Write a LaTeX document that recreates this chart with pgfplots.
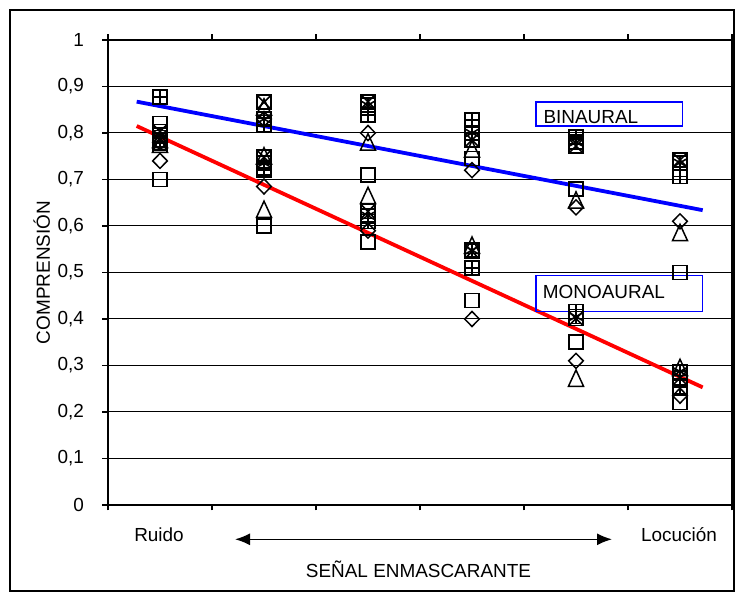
\documentclass[border=0pt]{standalone}
\usepackage{fontspec}
\setmainfont{Liberation Sans}
\usepackage{pgfplots}
\pgfplotsset{compat=1.18}
\usetikzlibrary{arrows.meta}

\pgfplotstableread{
x y
0 0.82
0 0.70
1 0.72
1 0.60
2 0.71
2 0.565
3 0.745
3 0.44
4 0.68
4 0.35
5 0.50
5 0.22
}\sqdata
\pgfplotstableread{
x y
0 0.74
0 0.78
1 0.685
1 0.83
2 0.80
2 0.59
3 0.72
3 0.40
4 0.64
4 0.31
5 0.61
5 0.235
}\diadata
\pgfplotstableread{
x y
0 0.78
0 0.77
1 0.745
1 0.63
1 0.85
2 0.775
2 0.66
3 0.76
3 0.553
4 0.65
4 0.267
5 0.58
5 0.29
}\tridata
\pgfplotstableread{
x y
0 0.803
0 0.785
1 0.866
1 0.748
2 0.867
2 0.631
3 0.785
3 0.545
4 0.772
4 0.401
5 0.742
5 0.273
}\xdata
\pgfplotstableread{
x y
0 0.878
0 0.778
1 0.817
1 0.725
2 0.839
2 0.61
3 0.828
3 0.51
4 0.792
4 0.416
5 0.706
5 0.254
}\plusdata
\pgfplotstableread{
x y
0 0.796
1 0.735
1 0.83
2 0.86
2 0.622
3 0.80
3 0.548
4 0.78
4 0.405
5 0.736
5 0.287
}\stardata

\begin{document}
\fontsize{19}{22}\selectfont
\begin{tikzpicture}[x=1bp,y=1bp]
\useasboundingbox (-108,-94) rectangle (627,505);
\draw[line width=1.5bp] (-98,-86) rectangle (626,495);
\begin{axis}[
  scale only axis, width=624bp, height=465bp,
  at={(0,0)}, anchor=south west,
  xmin=-0.5, xmax=5.5, ymin=0, ymax=1,
  xtick={-0.5,0.5,1.5,2.5,3.5,4.5,5.5}, xticklabels={},
  ytick={0,0.1,0.2,0.3,0.4,0.5,0.6,0.7,0.8,0.9,1},
  tick align=outside, major tick length=5.5bp,
  tick style={black, line width=1.2bp},
  axis line style={black, line width=1.5bp},
  ymajorgrids, grid style={black, line width=1bp},
  yticklabel style={/pgf/number format/fixed, /pgf/number format/precision=1, /pgf/number format/use comma, /pgf/number format/assume math mode=true, xshift=-12bp},
  every tick label/.append style={font=\fontsize{19}{22}\selectfont},
  clip=false,
  mk/.style={only marks},
]
\addplot[mk, mark=square, mark size=7bp, mark options={solid, black, line width=1.6bp}] table {\sqdata};
\addplot[mk, mark=diamond, mark size=7.5bp, mark options={solid, black, line width=1.5bp, xscale=1.3}] table {\diadata};
\addplot[mk, mark=triangle, mark size=8.7bp, mark options={solid, black, line width=1.5bp, yscale=1.25}] table {\tridata};
\addplot[mk, mark=square, mark size=7bp, mark options={solid, black, line width=1.6bp}] table {\xdata};
\addplot[mk, mark=x, mark size=9.9bp, mark options={solid, black, line width=1.6bp}] table {\xdata};
\addplot[mk, mark=square, mark size=7bp, mark options={solid, black, line width=1.6bp}] table {\plusdata};
\addplot[mk, mark=+, mark size=7bp, mark options={solid, black, line width=1.6bp}] table {\plusdata};
\addplot[mk, mark=square, mark size=7bp, mark options={solid, black, line width=1.6bp}] table {\stardata};
\addplot[mk, mark=asterisk, mark size=7bp, mark options={solid, black, line width=1.6bp}] table {\stardata};
% trend lines
\addplot[blue, line width=3.8bp, no markers] coordinates {(-0.224,0.8674) (5.218,0.634)};
\addplot[red, line width=3.8bp, no markers] coordinates {(-0.224,0.815) (5.218,0.253)};
% text boxes
\draw[blue, line width=1.5bp] (axis cs:3.615,0.815) rectangle (axis cs:5.026,0.867);
\node[anchor=base west, inner sep=0pt, font=\fontsize{19}{22}\selectfont] at (axis cs:3.686,0.821) {BINAURAL};
\draw[blue, line width=1.5bp] (axis cs:3.615,0.416) rectangle (axis cs:5.218,0.493);
\node[anchor=base west, inner sep=0pt, font=\fontsize{19}{22}\selectfont] at (axis cs:3.68,0.4445) {MONOAURAL};
\end{axis}
\node[anchor=base] at (51,-37) {Ruido};
\node[anchor=base] at (571,-37) {Locución};
\draw[line width=1.5bp, {Latex[length=15bp,width=12bp]}-{Latex[length=15bp,width=12bp]}] (127,-34.3) -- (504,-34.3);
\node[anchor=base] at (310.5,-72.7) {SEÑAL ENMASCARANTE};
\node[rotate=90, anchor=base] at (-58,232.5) {COMPRENSIÓN};
\end{tikzpicture}
\end{document}
